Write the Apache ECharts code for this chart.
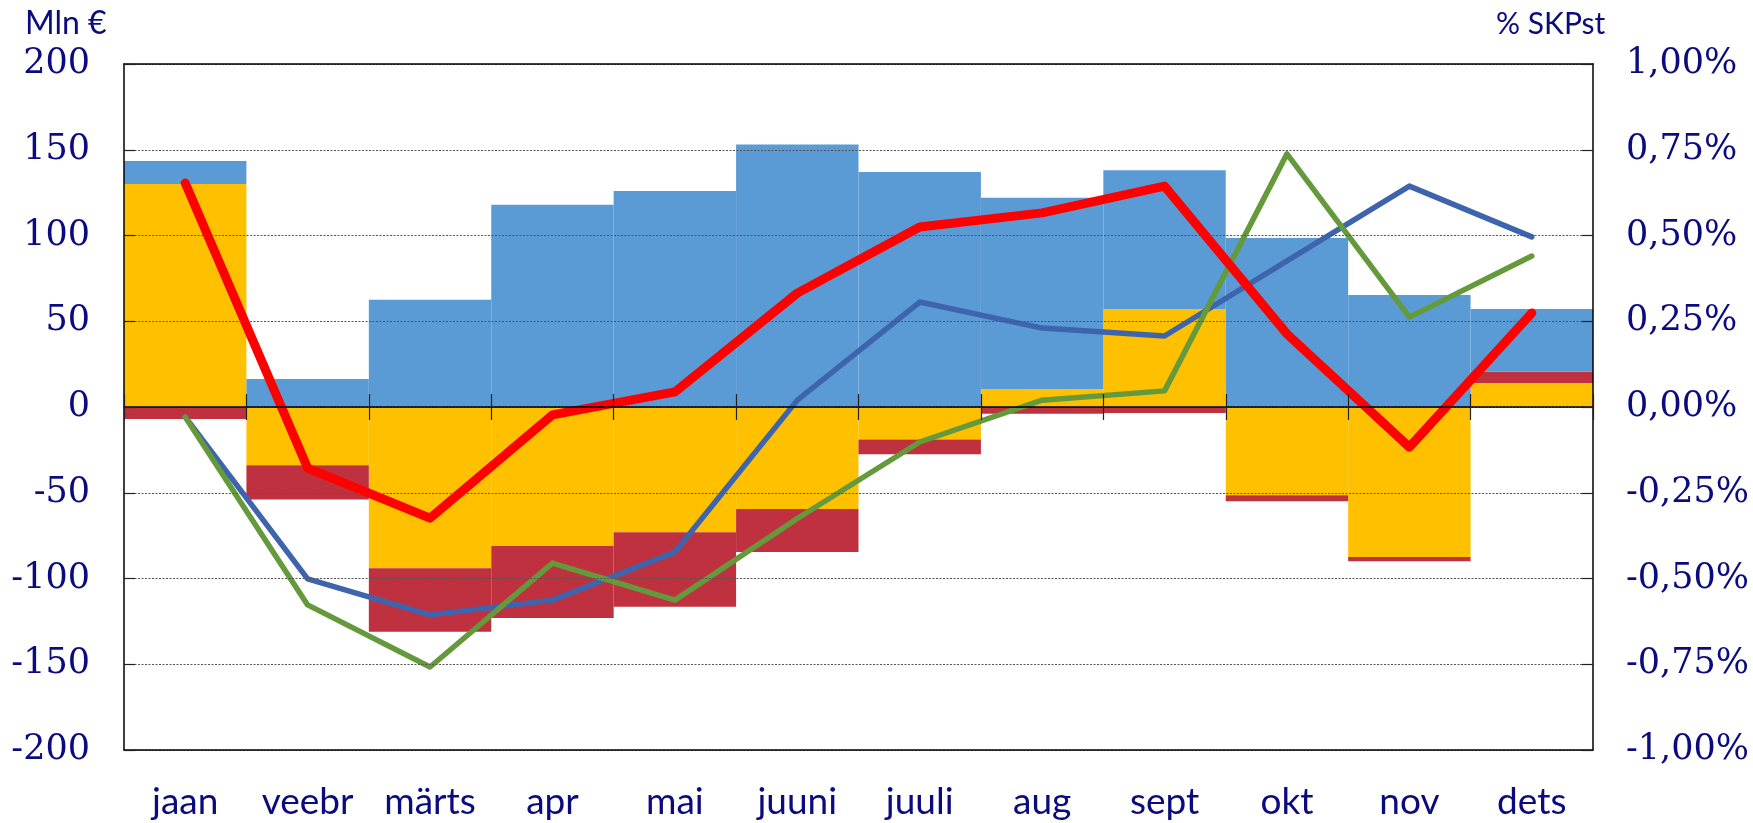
<!DOCTYPE html>
<html>
<head>
<meta charset="utf-8">
<script src="https://cdn.jsdelivr.net/npm/echarts@6/dist/echarts.min.js"></script>
<style>
html,body{margin:0;padding:0;background:#fff;}
#chart{width:1753px;height:823px;}
</style>
</head>
<body>
<div id="chart"></div>
<script>
var categories = ['jaan','veebr','märts','apr','mai','juuni','juuli','aug','sept','okt','nov','dets'];
// Bars, Mln €
var yellowBars = [130, -34, -94, -81, -73, -59.5, -19, 10.5, 57, -51.5, -87.5, 14];
var redBars    = [-7, -20, -37, -42, -43.5, -25, -8.5, -4, -3.5, -3.5, -2.5, 6.5];
var blueBars   = [13.4, 16.3, 62.5, 118, 126, 153, 137, 111.5, 81, 98.5, 65.3, 36.6];
// Lines, % SKPst
var blueLine  = [-0.029, -0.501, -0.606, -0.563, -0.423, 0.02, 0.306, 0.23, 0.207, 0.426, 0.644, 0.496];
var greenLine = [-0.029, -0.577, -0.758, -0.455, -0.563, -0.325, -0.102, 0.02, 0.047, 0.738, 0.262, 0.44];
var redLine   = [0.653, -0.178, -0.324, -0.023, 0.044, 0.332, 0.525, 0.566, 0.644, 0.213, -0.117, 0.274];
var leftTicks = {min: -200, max: 200, interval: 50};
var rightTicks = {min: -1, max: 1, interval: 0.25};

var navy = '#0b0b80';
var serif = "'DejaVu Serif', serif";
var sans = "Lato, 'Noto Sans', sans-serif";

var chart = echarts.init(document.getElementById('chart'));
var option = {
  animation: false,
  backgroundColor: '#fff',
  grid: {left: 124, right: 160, top: 64, bottom: 73, containLabel: false},
  graphic: [
    {type: 'text', left: 25, top: 8, z: 20, style: {text: 'Mln €', font: '32px ' + sans, fill: navy}},
    {type: 'text', left: 1496, top: 9, z: 20, style: {text: '% SKPst', font: '30px ' + sans, fill: navy}}
  ],
  xAxis: [
    {
      type: 'category', data: categories, position: 'bottom', z: 10,
      axisLine: {show: true, onZero: false, lineStyle: {color: '#000', width: 1.5}},
      axisTick: {show: false},
      axisLabel: {color: navy, fontFamily: sans, fontSize: 37, margin: 34},
      splitLine: {show: false}
    },
    {
      type: 'category', data: categories, position: 'bottom', z: 10,
      axisLine: {show: true, onZero: true, lineStyle: {color: '#000', width: 1.5}},
      axisTick: {show: true, inside: true, length: 13, lineStyle: {color: '#222', width: 1.2}},
      axisLabel: {show: false},
      splitLine: {show: false}
    },
    {
      type: 'category', data: categories, position: 'bottom', z: 10,
      axisLine: {show: false, onZero: true},
      axisTick: {show: true, inside: false, length: 13, lineStyle: {color: '#222', width: 1.2}},
      axisLabel: {show: false},
      splitLine: {show: false}
    },
    {
      type: 'category', data: categories, position: 'top', z: 10,
      axisLine: {show: true, onZero: false, lineStyle: {color: '#000', width: 1.5}},
      axisTick: {show: false},
      axisLabel: {show: false},
      splitLine: {show: false}
    }
  ],
  yAxis: [
    {
      type: 'value', position: 'left', min: leftTicks.min, max: leftTicks.max, interval: leftTicks.interval, z: 10,
      axisLine: {show: true, lineStyle: {color: '#000', width: 1.5}},
      axisTick: {show: true, inside: true, length: 11, lineStyle: {color: '#222', width: 1.2}},
      axisLabel: {color: navy, fontFamily: serif, fontSize: 35, margin: 34},
      splitLine: {show: true, lineStyle: {color: '#555', width: 1.2, type: [2, 1.5]}}
    },
    {
      type: 'value', position: 'right', min: rightTicks.min, max: rightTicks.max, interval: rightTicks.interval, z: 10,
      axisLine: {show: true, lineStyle: {color: '#000', width: 1.5}},
      axisTick: {show: true, inside: true, length: 11, lineStyle: {color: '#222', width: 1.2}},
      axisLabel: {
        color: navy, fontFamily: serif, fontSize: 35, margin: 33,
        formatter: function (v) { return v.toFixed(2).replace('.', ',') + '%'; }
      },
      splitLine: {show: false}
    }
  ],
  series: [
    {type: 'bar', name: 'yellow', stack: 'b', data: yellowBars, barCategoryGap: '0%', itemStyle: {color: '#FFC000'}},
    {type: 'bar', name: 'red', stack: 'b', data: redBars, barCategoryGap: '0%', itemStyle: {color: '#C0313F'}},
    {type: 'bar', name: 'blue', stack: 'b', data: blueBars, barCategoryGap: '0%', itemStyle: {color: '#5B9BD5'}},
    {type: 'line', name: 'blueLine', yAxisIndex: 1, data: blueLine, symbol: 'none', z: 3,
      lineStyle: {color: '#3E64AE', width: 5.5, cap: 'round', join: 'round'}},
    {type: 'line', name: 'greenLine', yAxisIndex: 1, data: greenLine, symbol: 'none', z: 3,
      lineStyle: {color: '#64993C', width: 5.5, cap: 'round', join: 'round'}},
    {type: 'line', name: 'redLine', yAxisIndex: 1, data: redLine, symbol: 'none', z: 3,
      lineStyle: {color: '#FF0000', width: 9, cap: 'round', join: 'round'}}
  ]
};
chart.setOption(option);
</script>
</body>
</html>
